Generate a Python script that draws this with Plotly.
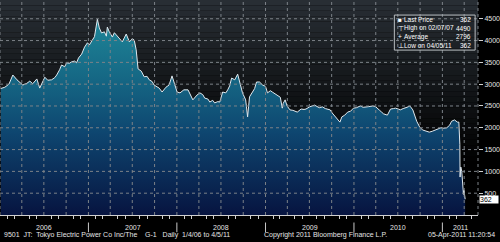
import datetime as dt
import plotly.graph_objects as go

# ---------------- data ----------------
dates = [
    "2006-01-04", "2006-01-21", "2006-02-07", "2006-02-23", "2006-03-12", "2006-03-24",
    "2006-04-05", "2006-04-22", "2006-05-04", "2006-05-16", "2006-06-02", "2006-06-14",
    "2006-06-26", "2006-07-05", "2006-07-17", "2006-08-02", "2006-08-15", "2006-08-23",
    "2006-09-04", "2006-09-12", "2006-09-25", "2006-10-03", "2006-10-15", "2006-10-23",
    "2006-11-05", "2006-11-13", "2006-11-21", "2006-12-04", "2006-12-16", "2006-12-28",
    "2007-01-05", "2007-01-14", "2007-01-26", "2007-02-07", "2007-02-15", "2007-02-24",
    "2007-03-08", "2007-03-16", "2007-03-20", "2007-03-28", "2007-04-10", "2007-04-18",
    "2007-04-26", "2007-05-08", "2007-05-21", "2007-05-29", "2007-06-06", "2007-06-19",
    "2007-07-01", "2007-07-09", "2007-07-17", "2007-07-25", "2007-08-07", "2007-08-19",
    "2007-08-31", "2007-09-09", "2007-09-21", "2007-09-29", "2007-10-11", "2007-10-20",
    "2007-11-01", "2007-11-17", "2007-11-30", "2007-12-12", "2007-12-20", "2008-01-02",
    "2008-01-14", "2008-01-30", "2008-02-16", "2008-02-24", "2008-03-07", "2008-03-24",
    "2008-04-05", "2008-04-17", "2008-04-25", "2008-05-08", "2008-05-16", "2008-05-28",
    "2008-06-05", "2008-06-18", "2008-06-26", "2008-07-08", "2008-07-21", "2008-07-29",
    "2008-08-06", "2008-08-14", "2008-08-27", "2008-09-08", "2008-09-20", "2008-09-28",
    "2008-10-11", "2008-10-19", "2008-10-27", "2008-11-08", "2008-11-17", "2008-11-25",
    "2008-12-07", "2008-12-20", "2009-01-01", "2009-01-09", "2009-01-21", "2009-01-29",
    "2009-02-10", "2009-02-18", "2009-03-03", "2009-03-11", "2009-03-15", "2009-03-23",
    "2009-03-31", "2009-04-12", "2009-04-24", "2009-05-12", "2009-05-28", "2009-06-09",
    "2009-06-17", "2009-07-02", "2009-07-22", "2009-08-11", "2009-08-24", "2009-09-05",
    "2009-09-17", "2009-09-25", "2009-10-03", "2009-10-15", "2009-10-23", "2009-11-04",
    "2009-11-12", "2009-11-24", "2009-12-06", "2009-12-18", "2009-12-30", "2010-01-11",
    "2010-01-27", "2010-02-08", "2010-02-24", "2010-03-08", "2010-03-20", "2010-04-01",
    "2010-04-09", "2010-04-17", "2010-04-25", "2010-05-03", "2010-05-19", "2010-06-01",
    "2010-06-13", "2010-06-21", "2010-07-03", "2010-07-11", "2010-07-23", "2010-07-31",
    "2010-08-08", "2010-08-20", "2010-09-01", "2010-09-17", "2010-09-29", "2010-10-11",
    "2010-10-27", "2010-11-08", "2010-11-20", "2010-12-02", "2010-12-14", "2010-12-26",
    "2011-01-07", "2011-01-19", "2011-01-31", "2011-02-08", "2011-02-20", "2011-03-04",
    "2011-03-10", "2011-03-14", "2011-03-15", "2011-03-18", "2011-03-22", "2011-03-29",
    "2011-03-31", "2011-04-05",
]
prices = [
    2900, 2930, 3000, 3210, 3100, 3050,
    2980, 3020, 3070, 3010, 3120, 2910,
    3060, 3160, 3090, 3100, 3150, 3210,
    3330, 3440, 3400, 3490, 3480, 3510,
    3530, 3490, 3600, 3690, 3850, 3950,
    3900, 3970, 4090, 4490, 4290, 4175,
    4200, 4100, 4310, 4200, 4080, 4180,
    4130, 4040, 3970, 4060, 4150, 3970,
    4040, 4010, 3790, 3350, 3300, 3170,
    3180, 3100, 3060, 2980, 2950, 2910,
    2820, 2930, 2980, 3190, 3050, 2820,
    2800, 2870, 2870, 2780, 2640, 2750,
    2800, 2760, 2680, 2660, 2590, 2630,
    2570, 2600, 2590, 2820, 2800, 2870,
    2960, 3140, 3100, 3230, 2940, 2800,
    2640, 2250, 2710, 2820, 2900, 3050,
    3050, 2980, 2950, 2800, 2850, 2820,
    2780, 2750, 2700, 2450, 2560, 2640,
    2500, 2410, 2400, 2360, 2430, 2420,
    2430, 2480, 2520, 2460, 2480, 2440,
    2430, 2410, 2340, 2270, 2220, 2130,
    2250, 2290, 2360, 2380, 2450, 2460,
    2500, 2470, 2480, 2490, 2500, 2480,
    2450, 2400, 2360, 2320, 2290, 2430,
    2440, 2450, 2430, 2410, 2440, 2450,
    2470, 2500, 2410, 2150, 2020, 1950,
    1920, 1900, 1920, 1950, 1970, 2000,
    1990, 2000, 2060, 2150, 2180, 2130,
    2130, 1620, 870, 1100, 1000, 470,
    570, 362,
]

year_labels = ["2006", "2007", "2008", "2009", "2010", "2011"]
y_ticks = [500, 1000, 1500, 2000, 2500, 3000, 3500, 4000, 4500]

legend_names = ["Last Price", "High on 02/07/07", "Average", "Low on 04/05/11"]
legend_symbols = ["\u25A0", "\u22A4", "+", "\u22A5"]
legend_values = ["362", "4490", "2796", "362"]
last_price = 362

footer_left = "9501  JT:  Tokyo Electric Power Co Inc/The    G-1   Daily  1/4/06 to 4/5/11"
footer_mid = "Copyright 2011 Bloomberg Finance L.P."
footer_right = "05-Apr-2011 11:20:54"

# ---------------- figure ----------------
FONT = "Liberation Sans, Arial, sans-serif"
TXT = "#e4e4e4"
GRID = "#7c8288"
x_start = "2006-01-01"
x_end = "2011-05-28"

fig = go.Figure()

fig.add_trace(go.Scatter(
    x=dates, y=prices, mode="lines",
    line=dict(color="#dfe8ee", width=1),
    fill="tozeroy",
    fillgradient=dict(
        type="vertical", start=0, stop=4500,
        colorscale=[[0, "#071440"], [0.42, "#0e4670"], [0.72, "#166a86"], [1, "#1f8698"]],
    ),
    hoverinfo="skip", showlegend=False,
))

# background gradient of the plot area (bands)
n_bands = 40
top_rgb = (40, 46, 52)
bot_rgb = (0, 0, 0)
shapes = []
for i in range(n_bands):
    t = i / (n_bands - 1)
    k = min(1.0, t * 1.3)
    r = int(top_rgb[0] + (bot_rgb[0] - top_rgb[0]) * k)
    g = int(top_rgb[1] + (bot_rgb[1] - top_rgb[1]) * k)
    b = int(top_rgb[2] + (bot_rgb[2] - top_rgb[2]) * k)
    shapes.append(dict(
        type="rect", xref="paper", yref="paper", layer="below",
        x0=0, x1=1, y0=1 - (i + 1) / n_bands, y1=1 - i / n_bands,
        fillcolor=f"rgb({r},{g},{b})", line=dict(width=0),
    ))

# dotted grid drawn above the area fill (from the tick lists)
for v in y_ticks:
    shapes.append(dict(type="line", xref="paper", yref="y", x0=0, x1=1, y0=v, y1=v,
                       layer="above", line=dict(color=GRID, width=1, dash="dot")))
q = dt.date(2006, 1, 1)
end_d = dt.date.fromisoformat(x_end)
while q <= end_d:
    shapes.append(dict(type="line", xref="x", yref="paper", x0=q.isoformat(), x1=q.isoformat(),
                       y0=0, y1=1, layer="above", line=dict(color=GRID, width=1, dash="dot")))
    m = q.month + 3
    q = dt.date(q.year + (m - 1) // 12, (m - 1) % 12 + 1, 1)
# right border dotted
shapes.append(dict(type="line", xref="paper", yref="paper", x0=1, x1=1, y0=0, y1=1,
                   layer="above", line=dict(color=GRID, width=1, dash="dot")))

# year separators and labels
annotations = []
years = [int(y) for y in year_labels]
for i, yr in enumerate(years):
    if i > 0:
        shapes.append(dict(type="line", xref="x", yref="paper",
                           x0=f"{yr}-01-01", x1=f"{yr}-01-01", y0=-0.035, y1=-0.08,
                           line=dict(color="#c8c8c8", width=1)))
    s = dt.date(yr, 1, 1)
    e = min(dt.date(yr + 1, 1, 1), end_d)
    mid = s + (e - s) / 2
    annotations.append(dict(
        x=mid.isoformat(), y=-0.058, xref="x", yref="paper", text=year_labels[i],
        showarrow=False, xanchor="center", yanchor="middle",
        font=dict(family=FONT, size=7, color=TXT),
    ))

# footer
FY = -0.122
annotations += [
    dict(x=0.004, y=FY, xref="paper", yref="paper", text=footer_left, showarrow=False,
         xanchor="left", yanchor="bottom", font=dict(family=FONT, size=7, color=TXT)),
    dict(x=0.68, y=FY, xref="paper", yref="paper", text=footer_mid, showarrow=False,
         xanchor="center", yanchor="bottom", font=dict(family=FONT, size=7, color=TXT)),
    dict(x=1.0395, y=FY, xref="paper", yref="paper", text=footer_right, showarrow=False,
         xanchor="right", yanchor="bottom", font=dict(family=FONT, size=7, color=TXT)),
]

# legend box
lx0, lx1, ly0, ly1 = 0.825, 0.994, 0.767, 0.930
shapes.append(dict(type="rect", xref="paper", yref="paper", x0=lx0, x1=lx1, y0=ly0, y1=ly1,
                   line=dict(color="#b8bcc0", width=1), fillcolor="rgba(0,0,0,0)"))
row_h = (ly1 - ly0) / 4
for i in range(4):
    yc = ly1 - row_h * (i + 0.5)
    annotations.append(dict(x=lx0 + 0.003, y=yc, xref="paper", yref="paper",
                            text=legend_symbols[i], showarrow=False, xanchor="left", yanchor="middle",
                            font=dict(family=FONT, size=6.5, color="#ffffff")))
    annotations.append(dict(x=lx0 + 0.016, y=yc, xref="paper", yref="paper",
                            text=legend_names[i], showarrow=False, xanchor="left", yanchor="middle",
                            font=dict(family=FONT, size=6.5, color="#ffffff")))
    annotations.append(dict(x=lx1 - 0.004, y=yc, xref="paper", yref="paper",
                            text=legend_values[i], showarrow=False, xanchor="right", yanchor="middle",
                            font=dict(family=FONT, size=6.5, color="#ffffff")))

# last price tag
annotations.append(dict(x=1.0, y=last_price, xref="paper", yref="y", text=f"{last_price}",
                        showarrow=False, xanchor="left", yanchor="middle", xshift=1,
                        bgcolor="#ffffff", borderpad=0,
                        font=dict(family=FONT, size=7, color="#000000"), width=18, align="left"))

fig.update_layout(
    width=500, height=242,
    margin=dict(l=0, r=19, t=0, b=27),
    paper_bgcolor="#000000",
    plot_bgcolor="rgba(0,0,0,0)",
    shapes=shapes,
    annotations=annotations,
    showlegend=False,
    xaxis=dict(
        type="date", range=[x_start, x_end],
        showgrid=False,
        dtick="M3", tick0="2006-01-01",
        showticklabels=False, ticks="",
        minor=dict(dtick="M1", tick0="2006-01-01", ticks="outside", ticklen=3,
                   tickcolor="#d0d0d0", showgrid=False),
        showline=True, linecolor="#d0d0d0", linewidth=1,
        zeroline=False, fixedrange=True,
    ),
    yaxis=dict(
        range=[0, 4930], side="right",
        tickvals=y_ticks, ticktext=[str(v) for v in y_ticks],
        showgrid=False,
        ticks="outside", ticklen=4, tickcolor="#d0d0d0",
        tickfont=dict(family=FONT, size=7, color=TXT),
        showline=False, zeroline=False, fixedrange=True,
    ),
)

fig.write_html("out.html")
